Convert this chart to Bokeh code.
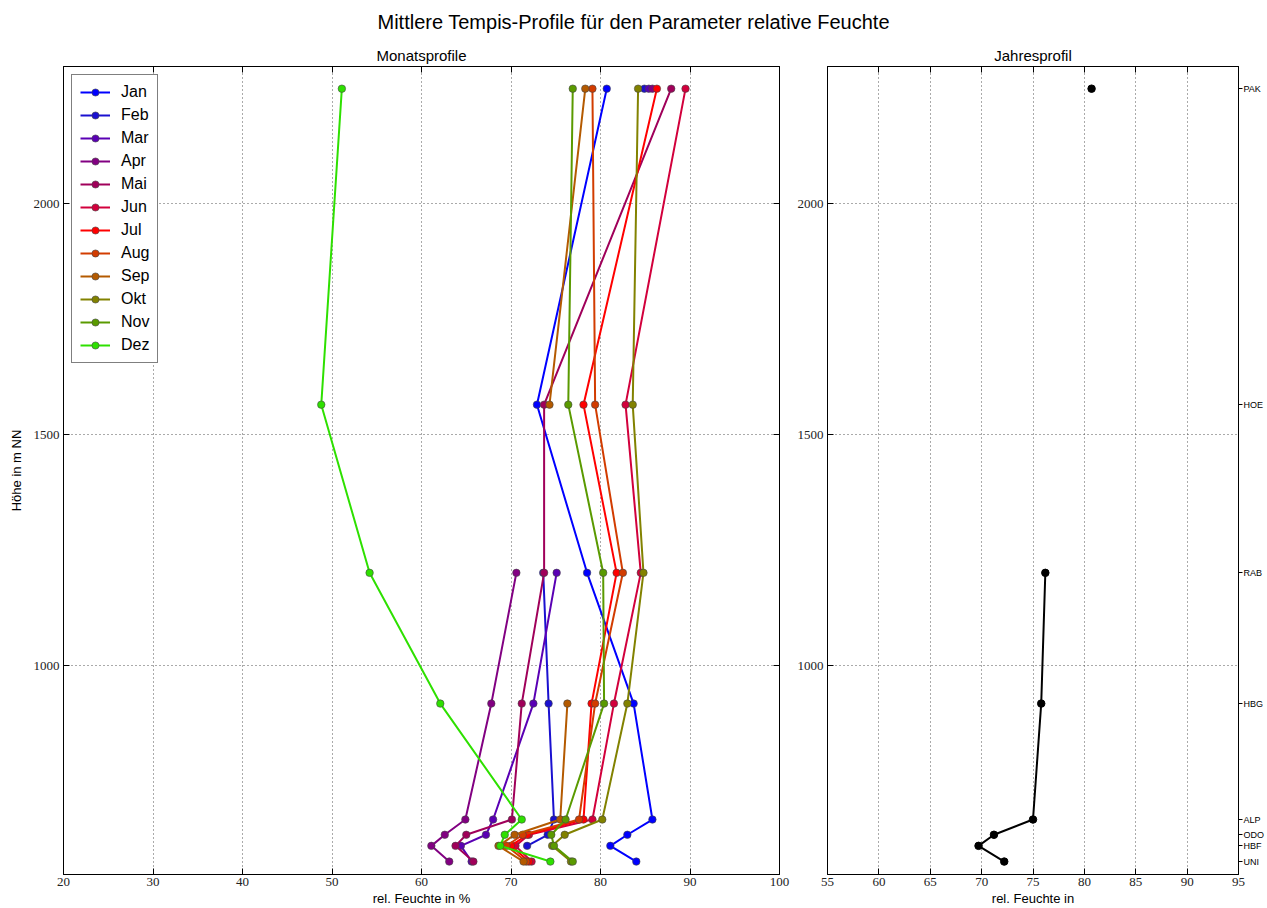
import math
from bokeh.plotting import figure
from bokeh.models import (FixedTicker, LinearAxis, Legend, LegendItem, Div, Range1d)
from bokeh.layouts import column, row
from bokeh.embed import file_html
from bokeh.resources import INLINE

nan = float("nan")

# stations from bottom to top
stations = ["UNI", "HBF", "ODO", "ALP", "HBG", "RAB", "HOE", "PAK"]
heights = [576, 610, 634, 667, 918, 1201, 1565, 2249]

months = ["Jan", "Feb", "Mar", "Apr", "Mai", "Jun", "Jul", "Aug", "Sep", "Okt", "Nov", "Dez"]
jan = [84.0, 81.1, 83.0, 85.8, 83.7, 78.5, 72.9, 80.7]
feb = [nan, 71.8, 74.1, 74.8, 74.2, 73.6, nan, 84.9]
mar = [65.6, 64.4, 67.2, 68.0, 72.5, 75.1, nan, 85.4]
apr = [63.1, 61.1, 62.6, 64.9, 67.8, 70.6, nan, 85.8]
mai = [65.8, 63.8, 65.0, 70.1, 71.2, 73.7, 73.7, 87.9]
jun = [72.3, 70.5, 72.0, 79.1, 81.5, 84.5, 82.8, 89.5]
jul = [72.0, 70.0, 71.8, 78.1, 79.0, 81.8, 78.1, 86.3]
aug = [71.7, 69.5, 71.3, 77.6, 79.4, 82.5, 79.4, 79.1]
sep = [71.4, 68.6, 70.4, 75.5, 76.3, nan, 74.3, 78.3]
okt = [76.7, 74.6, 76.0, 80.2, 83.0, 84.8, 83.6, 84.2]
nov = [76.9, 74.8, 74.5, 76.1, 80.4, 80.3, 76.4, 76.9]
dez = [74.4, 68.8, 69.3, 71.2, 62.1, 54.2, 48.8, 51.1]
monthly = [jan, feb, mar, apr, mai, jun, jul, aug, sep, okt, nov, dez]

annual = [72.2, 69.7, 71.2, 75.0, 75.8, 76.2, nan, 80.7]

month_colors = ["#0000ff", "#1a10d0", "#5a00b4", "#820082", "#a0005a", "#d2003c",
                "#ff0000", "#d23c00", "#b45a00", "#828200", "#5a9a00", "#2ee000"]

left_ticks = [20, 30, 40, 50, 60, 70, 80, 90, 100]
right_ticks = [55, 60, 65, 70, 75, 80, 85, 90, 95]
height_ticks = [1000, 1500, 2000]

TICK_FONT = "Liberation Serif"
SANS = "Liberation Sans"
Y0, Y1 = 548, 2297


def style_axis(ax, ticks, show=True):
    ax.ticker = FixedTicker(ticks=ticks)
    ax.major_tick_in = 6
    ax.major_tick_out = 0
    ax.minor_tick_line_color = None
    ax.axis_line_color = "black"
    ax.major_tick_line_color = "black"
    ax.major_label_text_font = TICK_FONT
    ax.axis_label_text_font = SANS
    ax.axis_label_text_font_style = "normal"
    ax.axis_label_text_font_size = "13px"
    ax.axis_label_text_color = "black"
    if show:
        ax.major_label_text_color = "#222222"
        ax.major_label_text_font_size = "13px"
        ax.major_label_standoff = 4
    else:
        ax.major_label_text_color = None
        ax.major_label_text_font_size = "1px"
        ax.major_label_standoff = 0


def make_fig(width, xr, xticks, border_left, border_right, title, xlabel):
    p = figure(width=width, height=874, x_range=Range1d(*xr), y_range=Range1d(Y0, Y1),
               output_backend="svg", toolbar_location=None,
               min_border_left=border_left, min_border_right=border_right,
               min_border_top=32, min_border_bottom=34)
    p.title.text = title
    p.title.align = "center"
    p.title.text_font = SANS
    p.title.text_font_size = "15px"
    p.title.text_font_style = "normal"
    p.title.text_color = "black"
    p.title.standoff = 5
    p.outline_line_color = "black"
    p.outline_line_width = 1
    p.background_fill_color = "white"
    bottom = p.xaxis[0]
    style_axis(bottom, xticks)
    bottom.axis_label = xlabel
    bottom.axis_label_standoff = 2
    bottom.major_label_standoff = 3
    style_axis(p.yaxis[0], height_ticks)
    p.xgrid.ticker = FixedTicker(ticks=xticks)
    p.ygrid.ticker = FixedTicker(ticks=height_ticks)
    for g in (p.xgrid[0], p.ygrid[0]):
        g.grid_line_color = "#555555"
        g.grid_line_dash = "1 3"
        g.grid_line_width = 1
    top = LinearAxis()
    style_axis(top, xticks, show=False)
    p.add_layout(top, "above")
    return p


# ---- left panel: monthly profiles
p1 = make_fig(790, (20, 100), left_ticks, 63, 11, "Monatsprofile", "rel. Feuchte in %")
p1.yaxis[0].axis_label = "Höhe in m NN"
p1.yaxis[0].axis_label_standoff = 7
r1 = LinearAxis()
style_axis(r1, height_ticks, show=False)
p1.add_layout(r1, "right")

items = []
for name, vals, col in zip(months, monthly, month_colors):
    ln = p1.line(vals, heights, line_color=col, line_width=2)
    sc = p1.scatter(vals, heights, size=7.5, fill_color=col, line_color="#444444",
                    line_width=0.6)
    items.append(LegendItem(label=name, renderers=[ln, sc]))

legend = Legend(items=items, location="top_left")
legend.label_text_font = SANS
legend.label_text_font_size = "16px"
legend.label_text_color = "black"
legend.glyph_width = 30
legend.glyph_height = 18
legend.spacing = 5
legend.padding = 8
legend.margin = 8
legend.label_standoff = 11
legend.border_line_color = "black"
legend.border_line_width = 1
legend.background_fill_alpha = 1
p1.add_layout(legend)

# ---- right panel: annual profile
p2 = make_fig(477, (55, 95), right_ticks, 37, 29, "Jahresprofil", "rel. Feuchte in")
st_axis = LinearAxis(ticker=FixedTicker(ticks=heights),
                     major_label_overrides={h: s for h, s in zip(heights, stations)})
st_axis.major_tick_in = 0
st_axis.major_tick_out = 4
st_axis.minor_tick_line_color = None
st_axis.major_label_text_font = SANS
st_axis.major_label_text_font_size = "9px"
st_axis.major_label_text_color = "black"
st_axis.major_label_standoff = 1
st_axis.axis_line_color = "black"
p2.add_layout(st_axis, "right")

p2.line(annual, heights, line_color="black", line_width=2)
p2.scatter(annual, heights, size=7.5, fill_color="black", line_color="black")

title_div = Div(
    text='<div style="width:1267px;text-align:center;font-size:20px;'
         'font-family:Liberation Sans, Arial, sans-serif;padding-top:8px;">'
         'Mittlere Tempis-Profile für den Parameter relative Feuchte</div>',
    width=1267, height=34, margin=(0, 0, 0, 0))

layout = column(title_div, row(p1, p2))
open("out.html", "w").write(file_html(layout, INLINE))
